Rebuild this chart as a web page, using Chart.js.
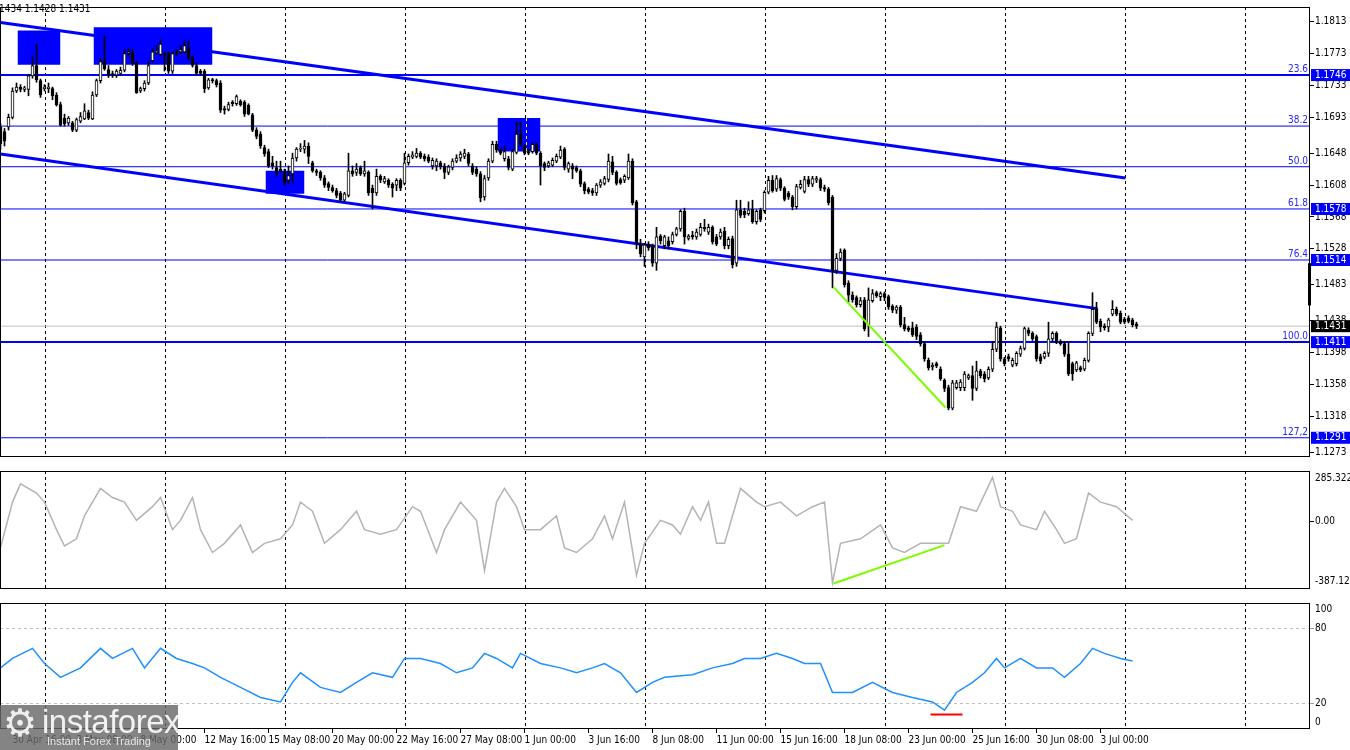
<!DOCTYPE html>
<html>
<head>
<meta charset="utf-8">
<script src="https://cdn.jsdelivr.net/npm/chart.js@4.4.1/dist/chart.umd.min.js"></script>
<style>
html,body{margin:0;padding:0;background:#fff;}
body{width:1350px;height:750px;position:relative;overflow:hidden;}
canvas{position:absolute;left:0;}
#hdr{position:absolute;left:-1px;top:3px;font:10px 'DejaVu Sans Condensed','Liberation Sans',sans-serif;color:#000;white-space:nowrap;}
#logo{position:absolute;left:0;top:705px;width:178px;height:45px;background:rgba(105,105,105,0.82);color:#fff;font-family:'Liberation Sans',Arial,sans-serif;overflow:hidden;}
#logo .gear{position:absolute;left:3px;top:-4px;font:38px 'DejaVu Sans',sans-serif;color:#eee;}
#logo .brand{position:absolute;left:42px;top:-2px;font-size:33px;letter-spacing:-0.5px;color:#f2f2f2;}
#logo .tag{position:absolute;left:47px;top:30px;font-size:11px;color:#e6e6e6;}
</style>
</head>
<body>
<canvas id="cMain" width="1350" height="464" style="top:0px"></canvas>
<canvas id="cCci" width="1350" height="132" style="top:464px"></canvas>
<canvas id="cRsi" width="1350" height="154" style="top:596px"></canvas>
<div id="hdr">1434 1.1428 1.1431</div>
<div id="logo"><span class="gear">&#9881;</span><span class="brand">instaforex</span><span class="tag">Instant Forex Trading</span></div>
<script>
// ---------------- DATA ----------------
const candleOpen = [
1.1681,1.1675,1.1681,1.1693,1.1726,1.1731,1.1728,1.1728,1.1745,1.1758,
1.1739,1.1729,1.1729,1.1729,1.1721,1.1709,1.1692,1.1686,1.1686,1.1677,
1.1688,1.1691,1.1699,1.1691,1.1721,1.1739,1.1764,1.1753,1.1748,1.1746,
1.1748,1.1752,1.1773,1.1775,1.1761,1.1726,1.1729,1.1736,1.1764,1.1774,
1.1772,1.1773,1.1773,1.1751,1.1775,1.1775,1.1775,1.1780,1.1768,1.1758,
1.1751,1.1751,1.1730,1.1740,1.1739,1.1736,1.1704,1.1703,1.1712,1.1710,
1.1713,1.1712,1.1708,1.1696,1.1677,1.1672,1.1655,1.1650,1.1636,1.1630,
1.1628,1.1624,1.1614,1.1622,1.1642,1.1653,1.1653,1.1657,1.1636,1.1626,
1.1624,1.1617,1.1610,1.1605,1.1601,1.1598,1.1589,1.1595,1.1626,1.1624,
1.1630,1.1622,1.1624,1.1604,1.1598,1.1619,1.1612,1.1614,1.1609,1.1608,
1.1614,1.1610,1.1636,1.1643,1.1644,1.1648,1.1644,1.1643,1.1632,1.1632,
1.1636,1.1632,1.1624,1.1630,1.1638,1.1642,1.1644,1.1647,1.1632,1.1628,
1.1622,1.1593,1.1617,1.1638,1.1659,1.1652,1.1641,1.1641,1.1628,1.1649,
1.1672,1.1657,1.1650,1.1650,1.1659,1.1648,1.1635,1.1632,1.1633,1.1638,
1.1643,1.1653,1.1628,1.1632,1.1630,1.1626,1.1610,1.1603,1.1601,1.1598,
1.1608,1.1610,1.1615,1.1637,1.1624,1.1615,1.1614,1.1617,1.1638,1.1587,
1.1534,1.1518,1.1534,1.1532,1.1510,1.1544,1.1532,1.1538,1.1537,1.1546,
1.1553,1.1575,1.1541,1.1545,1.1543,1.1546,1.1555,1.1549,1.1555,1.1543,
1.1543,1.1550,1.1532,1.1541,1.1510,1.1577,1.1575,1.1572,1.1578,1.1562,
1.1577,1.1576,1.1599,1.1614,1.1603,1.1615,1.1604,1.1598,1.1593,1.1581,
1.1605,1.1600,1.1615,1.1609,1.1614,1.1615,1.1605,1.1603,1.1593,1.1501,
1.1516,1.1526,1.1485,1.1470,1.1467,1.1458,1.1464,1.1433,1.1463,1.1473,
1.1468,1.1472,1.1468,1.1456,1.1451,1.1455,1.1433,1.1429,1.1429,1.1430,
1.1420,1.1409,1.1388,1.1380,1.1384,1.1377,1.1363,1.1354,1.1328,1.1354,
1.1354,1.1354,1.1366,1.1369,1.1353,1.1375,1.1371,1.1366,1.1377,1.1402,
1.1429,1.1390,1.1393,1.1382,1.1384,1.1396,1.1403,1.1426,1.1422,1.1418,
1.1393,1.1392,1.1397,1.1415,1.1422,1.1412,1.1409,1.1396,1.1384,1.1376,
1.1379,1.1377,1.1388,1.1422,1.1453,1.1437,1.1431,1.1430,1.1446,1.1452,
1.1447,1.1440,1.1441,1.1439,1.1434];
const candleHigh = [
1.1685,1.1679,1.1697,1.1730,1.1736,1.1734,1.1732,1.1747,1.1769,1.1785,
1.1741,1.1734,1.1736,1.1731,1.1724,1.1712,1.1697,1.1694,1.1688,1.1692,
1.1699,1.1710,1.1702,1.1725,1.1741,1.1767,1.1795,1.1758,1.1751,1.1753,
1.1756,1.1778,1.1779,1.1778,1.1763,1.1731,1.1739,1.1763,1.1779,1.1783,
1.1790,1.1775,1.1775,1.1775,1.1778,1.1783,1.1789,1.1789,1.1770,1.1761,
1.1753,1.1753,1.1742,1.1742,1.1741,1.1739,1.1707,1.1712,1.1714,1.1721,
1.1715,1.1714,1.1710,1.1698,1.1680,1.1675,1.1658,1.1653,1.1644,1.1638,
1.1638,1.1628,1.1632,1.1648,1.1655,1.1660,1.1664,1.1661,1.1638,1.1628,
1.1626,1.1620,1.1612,1.1608,1.1604,1.1600,1.1599,1.1648,1.1632,1.1635,
1.1632,1.1638,1.1626,1.1608,1.1628,1.1621,1.1619,1.1616,1.1611,1.1616,
1.1616,1.1648,1.1647,1.1650,1.1654,1.1650,1.1647,1.1646,1.1642,1.1641,
1.1638,1.1635,1.1633,1.1641,1.1646,1.1650,1.1653,1.1649,1.1635,1.1631,
1.1625,1.1620,1.1641,1.1663,1.1663,1.1654,1.1657,1.1644,1.1653,1.1687,
1.1687,1.1659,1.1653,1.1661,1.1661,1.1650,1.1637,1.1638,1.1642,1.1647,
1.1657,1.1655,1.1637,1.1635,1.1632,1.1628,1.1612,1.1605,1.1604,1.1610,
1.1615,1.1619,1.1647,1.1644,1.1626,1.1617,1.1621,1.1647,1.1641,1.1589,
1.1540,1.1535,1.1537,1.1534,1.1555,1.1546,1.1545,1.1543,1.1549,1.1555,
1.1577,1.1579,1.1546,1.1550,1.1553,1.1560,1.1565,1.1559,1.1557,1.1546,
1.1553,1.1555,1.1543,1.1544,1.1589,1.1589,1.1579,1.1587,1.1589,1.1577,
1.1579,1.1601,1.1619,1.1620,1.1620,1.1617,1.1606,1.1600,1.1595,1.1609,
1.1614,1.1619,1.1619,1.1619,1.1619,1.1617,1.1608,1.1605,1.1595,1.1522,
1.1528,1.1528,1.1488,1.1474,1.1469,1.1467,1.1467,1.1479,1.1477,1.1475,
1.1474,1.1474,1.1470,1.1458,1.1457,1.1457,1.1442,1.1431,1.1436,1.1433,
1.1423,1.1412,1.1391,1.1385,1.1386,1.1380,1.1365,1.1357,1.1363,1.1363,
1.1364,1.1374,1.1371,1.1381,1.1387,1.1377,1.1374,1.1380,1.1412,1.1436,
1.1431,1.1392,1.1396,1.1391,1.1399,1.1406,1.1430,1.1429,1.1424,1.1420,
1.1396,1.1399,1.1436,1.1424,1.1424,1.1414,1.1412,1.1412,1.1386,1.1387,
1.1381,1.1391,1.1424,1.1473,1.1461,1.1440,1.1434,1.1441,1.1463,1.1455,
1.1450,1.1442,1.1444,1.1441,1.1436];
const candleLow = [
1.1653,1.1657,1.1677,1.1691,1.1724,1.1725,1.1725,1.1720,1.1742,1.1737,
1.1718,1.1726,1.1724,1.1715,1.1707,1.1682,1.1682,1.1683,1.1675,1.1675,
1.1686,1.1690,1.1690,1.1690,1.1719,1.1736,1.1752,1.1743,1.1743,1.1743,
1.1746,1.1750,1.1770,1.1758,1.1723,1.1724,1.1726,1.1734,1.1762,1.1772,
1.1770,1.1751,1.1748,1.1748,1.1770,1.1773,1.1773,1.1765,1.1756,1.1746,
1.1746,1.1724,1.1728,1.1736,1.1731,1.1699,1.1697,1.1701,1.1707,1.1708,
1.1707,1.1694,1.1696,1.1675,1.1666,1.1654,1.1644,1.1630,1.1628,1.1619,
1.1624,1.1608,1.1610,1.1611,1.1638,1.1650,1.1648,1.1635,1.1624,1.1620,
1.1614,1.1605,1.1601,1.1599,1.1592,1.1587,1.1587,1.1593,1.1619,1.1620,
1.1620,1.1619,1.1595,1.1578,1.1595,1.1611,1.1610,1.1605,1.1593,1.1601,
1.1601,1.1608,1.1633,1.1641,1.1642,1.1641,1.1638,1.1636,1.1628,1.1626,
1.1628,1.1616,1.1621,1.1627,1.1636,1.1638,1.1641,1.1632,1.1621,1.1619,
1.1587,1.1589,1.1614,1.1636,1.1649,1.1646,1.1638,1.1627,1.1626,1.1647,
1.1657,1.1646,1.1646,1.1648,1.1646,1.1608,1.1626,1.1630,1.1631,1.1636,
1.1641,1.1627,1.1624,1.1616,1.1624,1.1606,1.1597,1.1597,1.1595,1.1595,
1.1605,1.1608,1.1612,1.1621,1.1608,1.1609,1.1611,1.1615,1.1583,1.1528,
1.1518,1.1506,1.1526,1.1506,1.1501,1.1534,1.1528,1.1528,1.1534,1.1544,
1.1550,1.1534,1.1539,1.1540,1.1540,1.1544,1.1550,1.1546,1.1534,1.1532,
1.1540,1.1528,1.1528,1.1504,1.1506,1.1567,1.1567,1.1570,1.1560,1.1559,
1.1562,1.1573,1.1597,1.1599,1.1600,1.1601,1.1588,1.1590,1.1577,1.1578,
1.1603,1.1598,1.1606,1.1606,1.1611,1.1601,1.1600,1.1583,1.1479,1.1497,
1.1513,1.1480,1.1461,1.1461,1.1455,1.1455,1.1425,1.1418,1.1461,1.1467,
1.1463,1.1463,1.1452,1.1448,1.1447,1.1430,1.1425,1.1424,1.1418,1.1414,
1.1406,1.1387,1.1376,1.1376,1.1379,1.1363,1.1349,1.1326,1.1326,1.1352,
1.1350,1.1350,1.1364,1.1338,1.1350,1.1366,1.1361,1.1364,1.1374,1.1399,
1.1387,1.1381,1.1387,1.1380,1.1381,1.1393,1.1401,1.1419,1.1413,1.1387,
1.1384,1.1390,1.1393,1.1412,1.1409,1.1407,1.1393,1.1369,1.1363,1.1374,
1.1374,1.1375,1.1386,1.1419,1.1434,1.1424,1.1426,1.1424,1.1444,1.1444,
1.1434,1.1434,1.1435,1.1430,1.1428];
const candleClose = [
1.1660,1.1663,1.1693,1.1726,1.1731,1.1728,1.1730,1.1745,1.1758,1.1740,
1.1721,1.1731,1.1731,1.1720,1.1709,1.1683,1.1685,1.1692,1.1677,1.1690,
1.1694,1.1701,1.1692,1.1721,1.1739,1.1763,1.1754,1.1746,1.1746,1.1751,
1.1752,1.1773,1.1775,1.1761,1.1724,1.1729,1.1736,1.1758,1.1775,1.1776,
1.1785,1.1772,1.1751,1.1773,1.1773,1.1778,1.1783,1.1768,1.1758,1.1748,
1.1748,1.1729,1.1740,1.1739,1.1734,1.1702,1.1702,1.1709,1.1710,1.1719,
1.1709,1.1697,1.1697,1.1677,1.1669,1.1657,1.1647,1.1632,1.1632,1.1624,
1.1626,1.1611,1.1620,1.1642,1.1653,1.1654,1.1657,1.1644,1.1626,1.1624,
1.1617,1.1608,1.1605,1.1601,1.1595,1.1589,1.1597,1.1626,1.1622,1.1628,
1.1622,1.1626,1.1598,1.1598,1.1619,1.1614,1.1616,1.1608,1.1604,1.1614,
1.1604,1.1636,1.1644,1.1646,1.1648,1.1643,1.1641,1.1638,1.1639,1.1638,
1.1631,1.1624,1.1631,1.1638,1.1642,1.1647,1.1648,1.1635,1.1624,1.1622,
1.1592,1.1616,1.1638,1.1659,1.1652,1.1648,1.1650,1.1630,1.1650,1.1672,
1.1659,1.1648,1.1648,1.1659,1.1648,1.1632,1.1630,1.1636,1.1639,1.1644,
1.1652,1.1630,1.1635,1.1628,1.1626,1.1609,1.1601,1.1599,1.1598,1.1608,
1.1612,1.1616,1.1638,1.1624,1.1610,1.1611,1.1619,1.1638,1.1586,1.1534,
1.1522,1.1533,1.1529,1.1510,1.1543,1.1538,1.1543,1.1532,1.1546,1.1553,
1.1575,1.1543,1.1544,1.1543,1.1549,1.1555,1.1553,1.1555,1.1537,1.1534,
1.1549,1.1532,1.1540,1.1508,1.1577,1.1570,1.1571,1.1577,1.1562,1.1575,
1.1565,1.1599,1.1614,1.1601,1.1616,1.1604,1.1590,1.1593,1.1581,1.1606,
1.1609,1.1615,1.1609,1.1616,1.1616,1.1604,1.1603,1.1586,1.1500,1.1516,
1.1524,1.1483,1.1470,1.1464,1.1458,1.1463,1.1428,1.1464,1.1472,1.1469,
1.1472,1.1467,1.1455,1.1451,1.1455,1.1433,1.1428,1.1426,1.1420,1.1418,
1.1409,1.1390,1.1379,1.1382,1.1381,1.1365,1.1353,1.1328,1.1360,1.1360,
1.1361,1.1371,1.1369,1.1353,1.1375,1.1369,1.1365,1.1377,1.1402,1.1430,
1.1390,1.1384,1.1390,1.1388,1.1397,1.1403,1.1428,1.1422,1.1415,1.1390,
1.1387,1.1397,1.1415,1.1422,1.1412,1.1409,1.1396,1.1371,1.1371,1.1385,
1.1376,1.1388,1.1422,1.1452,1.1436,1.1430,1.1429,1.1439,1.1452,1.1446,
1.1436,1.1436,1.1437,1.1433,1.1431];

// price-axis tick labels and boxed levels
const priceTicks = [1.1813,1.1773,1.1733,1.1693,1.1648,1.1608,1.1568,1.1528,1.1483,1.1438,1.1398,1.1358,1.1318,1.1273];
const fibLevels = [1.1746,1.1682,1.1631,1.1578,1.1514,1.1411,1.1291];
const fibNames  = ['23.6','38.2','50.0','61.8','76.4','100.0','127,2'];
const fibWidths = [2,1,1,1,1,2,1];
const fibBoxed  = [1.1746,1.1578,1.1514,1.1411,1.1291];
const currentPrice = 1.1431;
const scaleMarker = [1.1457,1.1510];

// trend channel and drawn objects (bar index, price)
const channelUpperX = [0, 281.25];
const channelUpperY = [1.1812, 1.1617];
const channelLowerX = [0, 274.25];
const channelLowerY = [1.1647, 1.1453];
const greenLineX = [208.25, 236.25];
const greenLineY = [1.1480, 1.1329];
const rectX1 = [4.25, 23.25, 66.25, 124.25];
const rectX2 = [15, 53, 76, 135];
const rectTop = [1.1802, 1.1806, 1.1626, 1.1692];
const rectBottom = [1.1759, 1.1759, 1.1597, 1.1650];

// time axis
const xLabelBars = [3,19,35,51,67,83,99,115,131,147,163,179,195,211,227,243,259,275];
const xLabels = ['30 Apr 16:00','3 May 08:00','8 May 00:00','12 May 16:00','15 May 08:00','20 May 00:00','22 May 16:00','27 May 08:00','1 Jun 00:00','3 Jun 16:00','8 Jun 08:00','11 Jun 00:00','15 Jun 16:00','18 Jun 08:00','23 Jun 00:00','25 Jun 16:00','30 Jun 08:00','3 Jul 00:00'];
const weekSeparators = [11.25,41.25,71.25,101.25,131.25,161.25,191.25,221.25,251.25,281.25,311.25];

// CCI
const cciBars   = [0,3,5,9,11,14,16,19,21,25,28,31,34,38,40,43,45,48,50,53,56,60,63,66,70,73,75,78,81,85,89,91,95,99,103,105,109,111,115,119,121,124,126,129,131,135,139,141,144,148,151,153,156,159,161,165,168,170,173,175,177,179,181,185,189,191,195,199,203,206,208,210,215,220,223,226,230,234,237,240,244,248,250,253,255,259,261,264,266,269,272,275,279,283];
const cciValues = [-153,108,212,160,108,-49,-142,-101,30,186,134,108,4,82,134,-49,4,134,-49,-179,-127,-22,-179,-127,-101,-22,108,56,-127,-49,56,-49,-75,-49,82,56,-179,-49,108,4,-283,108,186,82,-49,-49,30,-153,-179,-101,30,-101,108,-309,-127,4,-22,-75,82,4,108,-127,-127,186,108,82,108,30,82,108,-351,-127,-101,-22,-153,-179,-127,-127,-127,82,56,249,82,56,-22,-49,56,-49,-127,-101,160,108,82,4];
const cciTickLabels = ['285.322','0.00','-387.129'];
const cciMax = 285.322, cciMin = -387.129;
const cciDivX = [208.25, 236];
const cciDivY = [-356, -137];

// RSI
const rsiBars   = [0,3,8,11,15,20,25,28,33,36,40,44,48,51,55,60,65,70,73,75,80,85,89,93,98,101,105,110,114,118,121,124,128,130,135,140,144,148,151,155,159,163,166,173,178,183,186,190,194,198,201,205,208,213,218,223,228,233,236,239,243,246,249,251,255,259,263,266,270,273,276,280,283];
const rsiValues = [48.5,56,64,52,41,48.5,64,56,64,48.5,64,56,52,48.5,41,33,25,21.5,37,44.6,33,29,37,44.6,41,56,56,52,44.6,48.5,60,56,48.5,60,52,48.5,44.6,48.5,52,44.6,29,37,41,43,48.5,52,56,56,60,56,52,52,29,29,37,29,25,21.5,15,29,37,44.6,56,48.5,56,48.5,48.5,41,52,64,60,56,54];
const rsiTickLabels = ['100','80','20','0'];
const rsiRedX = [232.5, 240.5];
const rsiRedY = [11.5, 11.5];

// ---------------- RENDER ----------------
const FONT = "'DejaVu Sans Condensed','Liberation Sans',sans-serif";
Chart.defaults.font.family = FONT;
Chart.defaults.font.size = 10;
Chart.defaults.color = '#000';
Chart.defaults.animation = false;
Chart.defaults.events = [];
Chart.defaults.plugins.legend.display = false;
Chart.defaults.plugins.tooltip.enabled = false;

const X_MIN = -0.125, X_MAX = 327.375;
const BLUE = '#0000ff';
const pts = (xs, ys) => xs.map((x, i) => ({x, y: ys[i]}));

const framePlugin = {
  id: 'frame',
  afterDraw(chart) {
    const {ctx, chartArea: a} = chart;
    ctx.save();
    ctx.strokeStyle = '#000'; ctx.lineWidth = 1;
    ctx.strokeRect(a.left + 0.5, a.top + 0.5, a.right - a.left - 1, a.bottom - a.top - 1);
    ctx.restore();
  }
};

const N_RECT_LAST = 2 + 7 + 1 + 4 - 1; // index of last rectangle dataset
const mainExtras = {
  id: 'mainExtras',
  afterDatasetDraw(chart, args) {
    if (args.index !== N_RECT_LAST) return;
    // grid lines crossing the filled rectangles show up yellow (XOR-style)
    const {ctx, scales: {x, y}} = chart;
    ctx.save();
    ctx.strokeStyle = '#ffff00'; ctx.lineWidth = 1; ctx.setLineDash([3, 3]);
    rectX1.forEach((x1, i) => {
      weekSeparators.forEach(w => {
        if (w > x1 && w < rectX2[i]) {
          const px = Math.round(x.getPixelForValue(w)) + 0.5;
          ctx.beginPath();
          ctx.moveTo(px, y.getPixelForValue(rectTop[i]));
          ctx.lineTo(px, y.getPixelForValue(rectBottom[i]));
          ctx.stroke();
        }
      });
    });
    ctx.restore();
  },
  afterDatasetsDraw(chart) {
    const {ctx, chartArea: a, scales: {y}} = chart;
    ctx.save();
    ctx.font = '10px ' + FONT;
    ctx.fillStyle = '#2626ff';
    ctx.textAlign = 'right'; ctx.textBaseline = 'bottom';
    fibLevels.forEach((lv, i) => ctx.fillText(fibNames[i], a.right - 2, Math.round(y.getPixelForValue(lv)) - 1));
    const t = y.getPixelForValue(scaleMarker[1]), b = y.getPixelForValue(scaleMarker[0]);
    ctx.fillStyle = '#000';
    ctx.fillRect(a.right - 2, t, 3, b - t);
    ctx.restore();
  }
};

function gridAxis() {
  return {
    type: 'linear', min: X_MIN, max: X_MAX, position: 'bottom', offset: false,
    afterBuildTicks: s => { s.ticks = weekSeparators.map(v => ({value: v})); },
    afterFit: s => { s.height = 0; },
    ticks: {display: false},
    grid: {color: '#000', lineWidth: 1, drawTicks: false, offset: false},
    border: {display: false, dash: [3, 3]}
  };
}

const mainDatasets = [];
mainDatasets.push({type: 'line', data: pts(channelUpperX, channelUpperY), borderColor: BLUE, borderWidth: 3, pointRadius: 0, order: 20});
mainDatasets.push({type: 'line', data: pts(channelLowerX, channelLowerY), borderColor: BLUE, borderWidth: 3, pointRadius: 0, order: 20});
fibLevels.forEach((lv, i) => mainDatasets.push({type: 'line', data: [{x: X_MIN, y: lv}, {x: X_MAX, y: lv}], borderColor: BLUE, borderWidth: fibWidths[i], pointRadius: 0, order: 19}));
mainDatasets.push({type: 'line', data: [{x: X_MIN, y: currentPrice}, {x: X_MAX, y: currentPrice}], borderColor: '#c0c0c0', borderWidth: 1, pointRadius: 0, order: 18});
rectX1.forEach((x1, i) => mainDatasets.push({type: 'line', data: [{x: x1, y: rectTop[i]}, {x: rectX2[i], y: rectTop[i]}], borderWidth: 0, borderColor: BLUE, backgroundColor: BLUE, fill: {value: rectBottom[i]}, pointRadius: 0, order: 10}));
mainDatasets.push({type: 'bar', data: candleOpen.map((o, i) => ({x: i, y: [candleLow[i], candleHigh[i]]})), backgroundColor: '#000', barThickness: 1, grouped: false, order: 3});
mainDatasets.push({type: 'bar', data: candleOpen.map((o, i) => ({x: i, y: [o, candleClose[i]]})), backgroundColor: candleOpen.map((o, i) => candleClose[i] > o ? '#fff' : '#000'), borderColor: '#000', borderWidth: 1, borderSkipped: false, minBarLength: 1, barThickness: 3, grouped: false, order: 2});
mainDatasets.push({type: 'line', data: pts(greenLineX, greenLineY), borderColor: '#7cfc00', borderWidth: 2, pointRadius: 0, order: 1});

const yTicksMain = priceTicks.concat(fibBoxed, [currentPrice]);
const nPlain = priceTicks.length;

new Chart(document.getElementById('cMain'), {
  type: 'bar',
  data: {datasets: mainDatasets},
  options: {
    responsive: false,
    layout: {padding: {left: 0, right: 0, top: 2, bottom: 1}},
    scales: {
      x: gridAxis(),
      y: {
        type: 'linear', position: 'right', min: 1.126688, max: 1.183137,
        afterBuildTicks: s => { s.ticks = yTicksMain.map(v => ({value: v})); },
        afterFit: s => { s.width = 40; },
        ticks: {
          autoSkip: false, padding: 1,
          callback: v => v.toFixed(4),
          color: c => c.index >= nPlain ? '#fff' : '#000',
          showLabelBackdrop: true,
          backdropColor: c => c.index < nPlain ? 'rgba(0,0,0,0)' : (c.index === yTicksMain.length - 1 ? '#000' : BLUE),
          backdropPadding: {top: 0, bottom: 0, left: 4, right: 8}
        },
        grid: {drawOnChartArea: false, drawTicks: true, tickLength: 4, tickColor: c => c.index < nPlain ? '#000' : 'rgba(0,0,0,0)'},
        border: {display: false}
      }
    }
  },
  plugins: [framePlugin, mainExtras]
});

const cciTickPos = [244.25, 0, -346.06];
new Chart(document.getElementById('cCci'), {
  type: 'line',
  data: {datasets: [
    {data: pts(cciBars, cciValues), borderColor: '#b4b4b4', borderWidth: 1.5, pointRadius: 0, order: 2},
    {data: pts(cciDivX, cciDivY), borderColor: '#7cfc00', borderWidth: 2, pointRadius: 0, order: 1}
  ]},
  options: {
    responsive: false,
    layout: {padding: {left: 0, right: 0, top: 1, bottom: 0}},
    scales: {
      x: gridAxis(),
      y: {
        type: 'linear', position: 'right', min: cciMin, max: cciMax,
        afterBuildTicks: s => { s.ticks = cciTickPos.map(v => ({value: v})); },
        afterFit: s => { s.width = 40; },
        ticks: {autoSkip: false, padding: 1, callback: (v, i) => cciTickLabels[i]},
        grid: {drawOnChartArea: false, drawTicks: true, tickLength: 4, tickColor: c => c.index === 1 ? '#000' : 'rgba(0,0,0,0)'},
        border: {display: false}
      }
    }
  },
  plugins: [framePlugin]
});

const rsiTickPos = [94.7, 80, 20, 5.3];
new Chart(document.getElementById('cRsi'), {
  type: 'line',
  data: {datasets: [
    {data: pts(rsiBars, rsiValues), borderColor: '#1e90ff', borderWidth: 1.5, pointRadius: 0, order: 2},
    {data: pts(rsiRedX, rsiRedY), borderColor: '#ff0000', borderWidth: 2, pointRadius: 0, order: 1}
  ]},
  options: {
    responsive: false,
    layout: {padding: {left: 0, right: 0, top: 1, bottom: 0}},
    scales: {
      x: {
        type: 'linear', min: X_MIN, max: X_MAX, position: 'bottom', offset: false,
        afterBuildTicks: s => { s.ticks = xLabelBars.map(v => ({value: v})); },
        afterFit: s => { s.height = 21; },
        ticks: {autoSkip: false, maxRotation: 0, align: 'start', padding: 1, callback: (v, i) => xLabels[i]},
        grid: {drawOnChartArea: false, drawTicks: true, tickLength: 4, tickColor: '#000'},
        border: {display: false}
      },
      xg: gridAxis(),
      y: {
        type: 'linear', position: 'right', min: 0, max: 100,
        afterBuildTicks: s => { s.ticks = rsiTickPos.map(v => ({value: v})); },
        afterFit: s => { s.width = 40; },
        ticks: {autoSkip: false, padding: 1, callback: (v, i) => rsiTickLabels[i]},
        grid: {color: c => (c.index === 1 || c.index === 2) ? '#c0c0c0' : 'rgba(0,0,0,0)', drawTicks: true, tickLength: 4, tickColor: c => (c.index === 1 || c.index === 2) ? '#a0a0a0' : 'rgba(0,0,0,0)'},
        border: {display: false, dash: [3, 3]}
      }
    }
  },
  plugins: [framePlugin]
});
</script>
</body>
</html>
